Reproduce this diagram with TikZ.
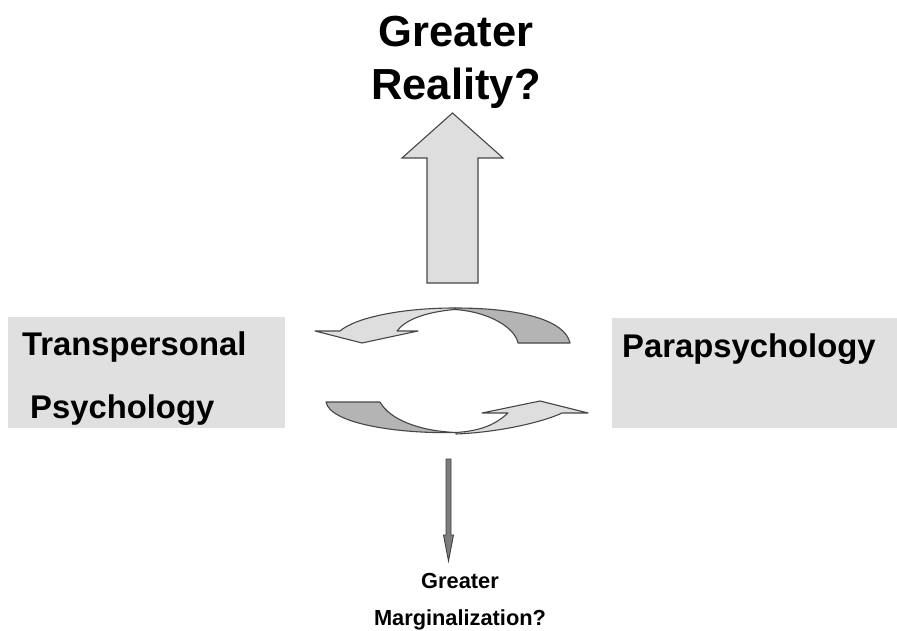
\documentclass[tikz,border=0pt]{standalone}
\usepackage{fontspec}
\setmainfont{Liberation Sans}
\definecolor{panel}{RGB}{224,224,224}
\definecolor{ribbonlight}{RGB}{222,222,222}
\definecolor{ribbondark}{RGB}{180,180,180}
\definecolor{edge}{RGB}{70,70,70}
\definecolor{shaftgray}{RGB}{125,125,125}
\begin{document}
\begin{tikzpicture}[x=1pt,y=-1pt,
  panelbox/.style={fill=panel,draw=none,inner sep=0pt,anchor=north west},
  bigtext/.style={inner sep=0pt,font=\fontsize{32.8}{39}\selectfont\bfseries},
  titletext/.style={inner sep=0pt,anchor=base,font=\fontsize{43.5}{52}\selectfont\bfseries},
  smalltext/.style={inner sep=0pt,anchor=base,font=\fontsize{21.8}{26}\selectfont\bfseries},
  lightpart/.style={fill=ribbonlight,draw=edge,line width=1.1pt,line join=round},
  darkpart/.style={fill=ribbondark,draw=edge,line width=1.1pt,line join=round},
  thinarrow/.style={fill=shaftgray,draw=black!75,line width=0.9pt,line join=miter}]
\useasboundingbox (0,0) rectangle (897,631);

% side panels
\node[panelbox,minimum width=277pt,minimum height=111pt] (leftpanel) at (8,317) {};
\node[panelbox,minimum width=285pt,minimum height=110pt] (rightpanel) at (612,318) {};

\node[bigtext,anchor=base west] (tp1) at (22,355) {Transpersonal};
\node[bigtext,anchor=base west] (tp2) at (30,418) {Psychology};
\node[bigtext,anchor=base west] (pp) at (622,357) {Parapsychology};

% titles above and below
\node[titletext] (gr1) at (456,47) {Greater};
\node[titletext] (gr2) at (456,100) {Reality?};
\node[smalltext] (gm1) at (460,588) {Greater};
\node[smalltext] (gm2) at (460,625) {Marginalization?};

% wide block arrow pointing up
\draw[lightpart,line join=miter]
  (427,283) -- (427,158) -- (402,158) -- (452.5,113) -- (503,158)
  -- (478,158) -- (478,283) -- cycle;

% slim arrow pointing down
\draw[thinarrow]
  (446,459) -- (451,459) -- (451,535) -- (453.5,535) -- (448.5,561)
  -- (443.5,535) -- (446,535) -- cycle;

% upper curved arrow: back half (dark) and front half with head (light)
\draw[darkpart]
  (455,308) .. controls (520,308) and (565,320) .. (570,343)
  -- (518,343) .. controls (515,328) and (490,312) .. (455,309.5) -- cycle;
\draw[lightpart]
  (455,308) .. controls (400,308) and (355,318) .. (340,331)
  -- (315,331) -- (362,343) -- (418,331) -- (397,331)
  .. controls (405,320) and (425,312) .. (455,309.5) -- cycle;

% lower curved arrow: back half (dark) and front half with head (light)
\draw[darkpart]
  (326,402) -- (380,402) .. controls (390,420) and (420,431) .. (456,432.5)
  .. controls (400,434) and (330,424) .. (326,402) -- cycle;
\draw[lightpart]
  (456,434) .. controls (505,432) and (548,420) .. (562,413)
  -- (588,413) -- (540,401) -- (482,413) -- (508,413)
  .. controls (495,425) and (480,431) .. (456,432.5) -- cycle;
\end{tikzpicture}
\end{document}
